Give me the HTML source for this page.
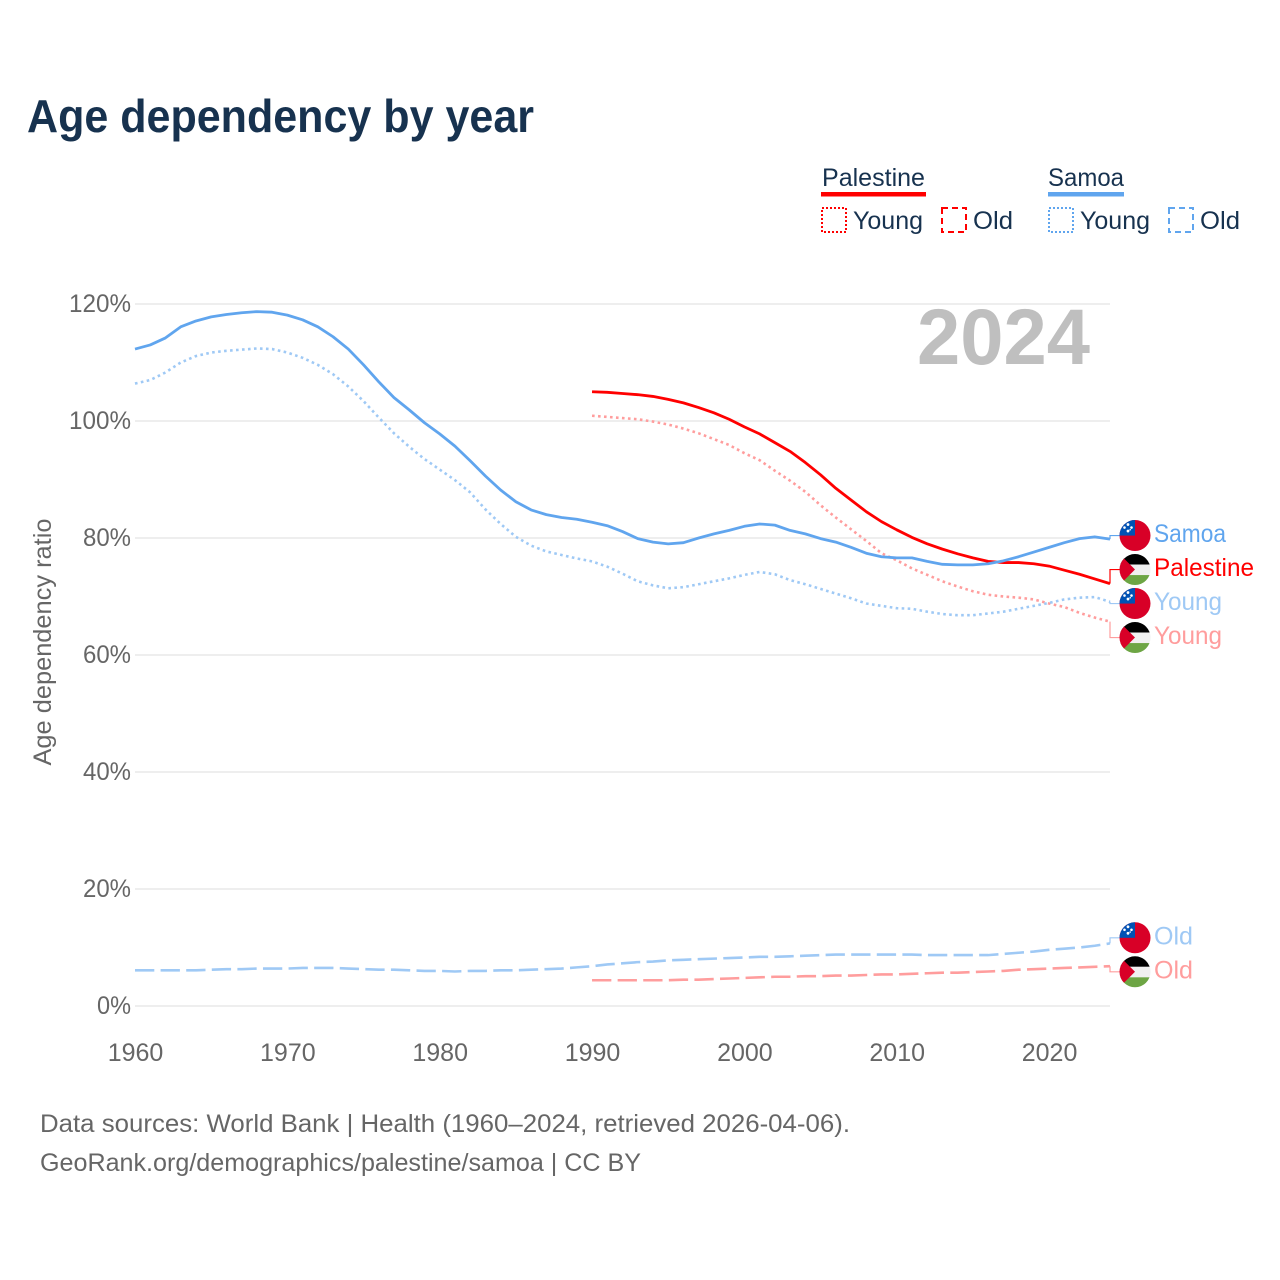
<!DOCTYPE html>
<html lang="en">
<head>
<meta charset="utf-8">
<title>Age dependency by year</title>
<style>
html,body{margin:0;padding:0;background:#fff;}
svg{display:block;font-family:"Liberation Sans",sans-serif;}
.ink{fill:#17324f;}
.grey{fill:#666;}
.tick{fill:#666;font-size:25px;}
</style>
</head>
<body>
<svg id="chart" width="1280" height="1280" viewBox="0 0 1280 1280" xmlns="http://www.w3.org/2000/svg">
  <defs><clipPath id="flag-clip"><circle cx="0" cy="0" r="15.5"></circle></clipPath></defs>
  <rect x="0" y="0" width="1280" height="1280" fill="#fff"></rect>
  <text class="ink" x="27" y="132" font-size="46" font-weight="700" textLength="507" lengthAdjust="spacingAndGlyphs">Age dependency by year</text>

  <g>
    <text class="ink" x="822" y="186" font-size="25" textLength="103" lengthAdjust="spacingAndGlyphs">Palestine</text>
    <rect x="821" y="192" width="105" height="4.5" fill="#ff0000"></rect>
    <rect x="822" y="208" width="24" height="24" fill="none" stroke="#ff0000" stroke-width="2" stroke-dasharray="2 2"></rect>
    <text class="ink" x="853" y="229" font-size="25" textLength="70" lengthAdjust="spacingAndGlyphs">Young</text>
    <rect x="942" y="208" width="24" height="24" fill="none" stroke="#ff0000" stroke-width="2" stroke-dasharray="6 4"></rect>
    <text class="ink" x="973" y="229" font-size="25" textLength="40" lengthAdjust="spacingAndGlyphs">Old</text>

    <text class="ink" x="1048" y="186" font-size="25" textLength="76" lengthAdjust="spacingAndGlyphs">Samoa</text>
    <rect x="1048" y="192" width="76" height="4.5" fill="#60a5ee"></rect>
    <rect x="1049" y="208" width="24" height="24" fill="none" stroke="#60a5ee" stroke-width="2" stroke-dasharray="2 2"></rect>
    <text class="ink" x="1080" y="229" font-size="25" textLength="70" lengthAdjust="spacingAndGlyphs">Young</text>
    <rect x="1169" y="208" width="24" height="24" fill="none" stroke="#60a5ee" stroke-width="2" stroke-dasharray="6 4"></rect>
    <text class="ink" x="1200" y="229" font-size="25" textLength="40" lengthAdjust="spacingAndGlyphs">Old</text>
  </g>

  <g id="grid"></g>
  <g id="y-ticks"></g>
  <g id="x-ticks"></g>
  <text class="grey" transform="translate(51,642) rotate(-90)" text-anchor="middle" font-size="25" textLength="247" lengthAdjust="spacingAndGlyphs">Age dependency ratio</text>
  <text x="1090" y="364" text-anchor="end" font-size="79" font-weight="700" fill="#bfbfbf" textLength="173" lengthAdjust="spacingAndGlyphs">2024</text>

  <g id="series"></g>
  <g id="end-labels"></g>

  <text class="grey" x="40" y="1132" font-size="25" textLength="810" lengthAdjust="spacingAndGlyphs">Data sources: World Bank | Health (1960–2024, retrieved 2026-04-06).</text>
  <text class="grey" x="40" y="1171" font-size="25" textLength="601" lengthAdjust="spacingAndGlyphs">GeoRank.org/demographics/palestine/samoa | CC BY</text>
</svg>
<script>
const years = [1960,1961,1962,1963,1964,1965,1966,1967,1968,1969,1970,1971,1972,1973,1974,1975,1976,1977,1978,1979,1980,1981,1982,1983,1984,1985,1986,1987,1988,1989,1990,1991,1992,1993,1994,1995,1996,1997,1998,1999,2000,2001,2002,2003,2004,2005,2006,2007,2008,2009,2010,2011,2012,2013,2014,2015,2016,2017,2018,2019,2020,2021,2022,2023,2024];
const xTickValues = [1960,1970,1980,1990,2000,2010,2020];
const yTickValues = [0,20,40,60,80,100,120];

const samoaTotal = [112.3,113,114.2,116.1,117.1,117.8,118.2,118.5,118.7,118.6,118.1,117.3,116.1,114.4,112.3,109.6,106.7,104,101.9,99.7,97.8,95.7,93.2,90.6,88.2,86.2,84.8,84,83.5,83.2,82.7,82.1,81.1,79.9,79.3,79,79.2,80,80.7,81.3,82,82.4,82.2,81.3,80.7,79.9,79.3,78.4,77.4,76.8,76.6,76.6,76,75.5,75.4,75.4,75.6,76.1,76.8,77.6,78.4,79.2,79.9,80.2,79.8];
const samoaYoung = [106.4,107,108.3,110,111.1,111.7,112,112.2,112.4,112.3,111.7,110.8,109.6,108,105.9,103.4,100.6,97.9,95.6,93.5,91.7,89.9,87.8,84.9,82.4,80.2,78.7,77.7,77.1,76.5,76,75.1,73.9,72.6,71.9,71.4,71.6,72.1,72.6,73.1,73.7,74.2,73.8,72.8,72.1,71.3,70.5,69.7,68.8,68.4,68,67.9,67.4,67,66.8,66.8,67.1,67.4,67.9,68.4,68.9,69.5,69.8,69.9,69.1];
const samoaOld = [6.1,6.1,6.1,6.1,6.1,6.2,6.3,6.3,6.4,6.4,6.4,6.5,6.5,6.5,6.4,6.3,6.2,6.2,6.1,6,6,5.9,6,6,6.1,6.1,6.2,6.3,6.4,6.6,6.8,7.1,7.3,7.5,7.6,7.8,7.9,8,8.1,8.2,8.3,8.4,8.4,8.5,8.6,8.7,8.8,8.8,8.8,8.8,8.8,8.8,8.7,8.7,8.7,8.7,8.7,8.9,9.1,9.3,9.6,9.8,10,10.3,10.7];
const palestineTotal = [null,null,null,null,null,null,null,null,null,null,null,null,null,null,null,null,null,null,null,null,null,null,null,null,null,null,null,null,null,null,105,104.9,104.7,104.5,104.2,103.7,103.1,102.3,101.4,100.3,99,97.8,96.3,94.8,92.9,90.8,88.5,86.5,84.5,82.8,81.4,80.1,79,78.1,77.3,76.6,76,75.8,75.8,75.6,75.2,74.5,73.8,73,72.2];
const palestineYoung = [null,null,null,null,null,null,null,null,null,null,null,null,null,null,null,null,null,null,null,null,null,null,null,null,null,null,null,null,null,null,100.9,100.7,100.5,100.3,99.9,99.4,98.7,97.9,96.9,95.9,94.5,93.3,91.5,89.8,87.9,85.6,83.5,81.5,79.5,77.4,76.2,74.8,73.7,72.6,71.7,70.9,70.3,70,69.8,69.5,68.8,68.2,67.2,66.4,65.7];
const palestineOld = [null,null,null,null,null,null,null,null,null,null,null,null,null,null,null,null,null,null,null,null,null,null,null,null,null,null,null,null,null,null,4.4,4.4,4.4,4.4,4.4,4.4,4.5,4.5,4.6,4.7,4.8,4.9,5,5,5.1,5.1,5.2,5.2,5.3,5.4,5.4,5.5,5.6,5.7,5.7,5.8,5.9,6,6.2,6.3,6.4,6.5,6.6,6.7,6.8];

const NS = 'http://www.w3.org/2000/svg';
const plot = {left:135, right:1110, top:304, bottom:1006, xMin:1960, xMax:2024, yMin:0, yMax:120};
function xScale(v){ return plot.left + (v - plot.xMin) * (plot.right - plot.left) / (plot.xMax - plot.xMin); }
function yScale(v){ return plot.bottom - (v - plot.yMin) * (plot.bottom - plot.top) / (plot.yMax - plot.yMin); }
function make(tag, attrs, parent){
  const el = document.createElementNS(NS, tag);
  for (const k in attrs) el.setAttribute(k, attrs[k]);
  parent.appendChild(el);
  return el;
}

const gridG = document.getElementById('grid');
const yG = document.getElementById('y-ticks');
const xG = document.getElementById('x-ticks');
yTickValues.forEach(function(v){
  const g = make('line', {x1:plot.left, x2:plot.right, y1:yScale(v), y2:yScale(v), stroke:'#eeeeee', 'stroke-width':2}, gridG);
  
  
  const t = make('text', {x:131, y:yScale(v) + 8, 'text-anchor':'end', class:'tick', textLength:(v === 0 ? 34 : v >= 100 ? 62 : 48), lengthAdjust:'spacingAndGlyphs'}, yG);
  t.textContent = v + '%';
  
  
});
xTickValues.forEach(function(v){
  const t = make('text', {x:xScale(v) + 0.5, y:1061, 'text-anchor':'middle', class:'tick'}, xG);
  t.textContent = String(v);
  
  
});

const seriesList = [
  {key:'palestine-total', label:'Palestine', width:100, flag:'ps', values:palestineTotal, color:'#ff0000', lineW:2.8, dash:'none'},
  {key:'palestine-young', label:'Young', width:68, flag:'ps', values:palestineYoung, color:'#ff9d9d', lineW:2.6, dash:'2.6 3.4'},
  {key:'palestine-old', label:'Old', width:39, flag:'ps', values:palestineOld, color:'#ff9d9d', lineW:2.6, dash:'19.3 6.3'},
  {key:'samoa-total', label:'Samoa', width:72, flag:'ws', values:samoaTotal, color:'#60a5ee', lineW:2.8, dash:'none'},
  {key:'samoa-young', label:'Young', width:68, flag:'ws', values:samoaYoung, color:'#9fc9f5', lineW:2.6, dash:'2.6 3.4'},
  {key:'samoa-old', label:'Old', width:39, flag:'ws', values:samoaOld, color:'#9fc9f5', lineW:2.6, dash:'19.3 6.3'}
];

const seriesG = document.getElementById('series');
seriesList.forEach(function(s){
  let d = '';
  s.values.forEach(function(v, i){
    if (v === null) return;
    d += (d ? 'L' : 'M') + xScale(years[i]).toFixed(2) + ' ' + yScale(v).toFixed(2);
  });
  const p = make('path', {d:d, fill:'none', stroke:s.color, 'stroke-width':s.lineW, 'stroke-linejoin':'round'}, seriesG);
  if (s.dash !== 'none') p.setAttribute('stroke-dasharray', s.dash);
  
  
});

/* Dodge end labels: overlapping labels are merged into clusters centred on their mean end position. */
const labelGap = 34;
const items = seriesList.map(function(s){
  const end = yScale(s.values[s.values.length - 1]);
  return {s:s, end:end, labelY:end};
}).sort(function(a, b){ return a.end - b.end; });
let clusters = items.map(function(it){ return {members:[it], center:it.end}; });
let merged = true;
while (merged) {
  merged = false;
  for (let i = 0; i < clusters.length - 1; i++) {
    const a = clusters[i], b = clusters[i + 1];
    const aBottom = a.center + (a.members.length - 1) * labelGap / 2;
    const bTop = b.center - (b.members.length - 1) * labelGap / 2;
    if (bTop - aBottom < labelGap) {
      const members = a.members.concat(b.members);
      const center = members.reduce(function(t, m){ return t + m.end; }, 0) / members.length;
      clusters.splice(i, 2, {members:members, center:center});
      merged = true;
      break;
    }
  }
}
clusters.forEach(function(c){
  c.members.forEach(function(m, i){
    m.labelY = c.center + (i - (c.members.length - 1) / 2) * labelGap;
  });
});

const labelsG = document.getElementById('end-labels');
function drawFlag(parent, code, cy){
  const g = make('g', {transform:'translate(1135,' + cy.toFixed(2) + ')', 'clip-path':'url(#flag-clip)'}, parent);
  if (code === 'ws') {
    make('rect', {x:-16, y:-16, width:32, height:32, fill:'#d80027'}, g);
    make('rect', {x:-16, y:-16, width:16, height:16, fill:'#0052b4'}, g);
    [[-7,-11,1.4],[-10.5,-8,1.3],[-3.5,-8,1.3],[-7,-4.5,1.4],[-4.8,-5.8,.8]].forEach(function(c){
      make('circle', {cx:c[0], cy:c[1], r:c[2], fill:'#fff'}, g);
    });
  } else {
    make('rect', {x:-16, y:-16, width:32, height:11, fill:'#000'}, g);
    make('rect', {x:-16, y:-5, width:32, height:10.5, fill:'#f0f0f0'}, g);
    make('rect', {x:-16, y:5.5, width:32, height:11, fill:'#6da544'}, g);
    make('polygon', {points:'-16,-16 0,0 -16,16', fill:'#d80027'}, g);
  }
  return g;
}
items.forEach(function(it){
  const s = it.s;
  const leader = make('path', {d:'M' + plot.right + ' ' + it.end.toFixed(2) + 'V' + it.labelY.toFixed(2) + 'H1120', fill:'none', stroke:s.color, 'stroke-width':1.2}, labelsG);
  
  
  const flag = drawFlag(labelsG, s.flag, it.labelY);
  
  
  const t = make('text', {x:1154, y:(it.labelY + 6.5).toFixed(2), 'font-size':25, fill:s.color, textLength:s.width, lengthAdjust:'spacingAndGlyphs'}, labelsG);
  t.textContent = s.label;
  
  
});
</script>
</body>
</html>
